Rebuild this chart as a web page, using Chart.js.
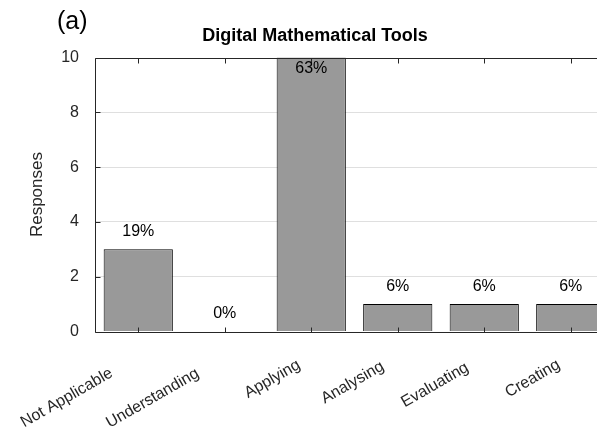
<!DOCTYPE html>
<html>
<head>
<meta charset="utf-8">
<script src="https://cdn.jsdelivr.net/npm/chart.js@4/dist/chart.umd.min.js"></script>
<style>
    html, body { margin: 0; padding: 0; background: #fff; overflow: hidden; }
    #wrap { position: relative; width: 630px; height: 429px; }
    #panel { position: absolute; left: 57px; top: 6px; font: 25px "Liberation Sans", Arial, sans-serif; color: #000; }
</style>
</head>
<body>
<div id="wrap">
    <canvas id="chart" width="630" height="429"></canvas>
    <div id="panel">(a)</div>
</div>
<script>
const categories = ['Not Applicable', 'Understanding', 'Applying', 'Analysing', 'Evaluating', 'Creating'];
const responses = [3, 0, 10, 1, 1, 1];
const percentLabels = ['19%', '0%', '63%', '6%', '6%', '6%'];
const yTicks = [0, 2, 4, 6, 8, 10];

const fontFamily = '"Liberation Sans", Arial, sans-serif';
const axisColor = '#262626';

// axes box, inward tick marks, percentage labels and slanted category labels
const boxAndLabels = {
    id: 'boxAndLabels',
    afterDatasetsDraw(chart) {
        const ctx = chart.ctx;
        const area = chart.chartArea;
        const xs = chart.scales.x;
        const ys = chart.scales.y;
        const l = Math.round(area.left) + 0.5;
        const r = Math.round(area.right) + 0.5;
        const t = Math.round(area.top) + 0.5;
        const b = Math.round(area.bottom) + 0.5;
        ctx.save();
        ctx.strokeStyle = axisColor;
        ctx.lineWidth = 1;
        ctx.beginPath();
        ctx.rect(l, t, r - l, b - t);
        // x ticks, bottom and top
        categories.forEach((c, i) => {
            const px = Math.round(xs.getPixelForValue(i)) + 0.5;
            ctx.moveTo(px, b); ctx.lineTo(px, b - 5);
            ctx.moveTo(px, t); ctx.lineTo(px, t + 5);
        });
        // y ticks, left and right
        yTicks.forEach(v => {
            const py = Math.round(ys.getPixelForValue(v)) + 0.5;
            ctx.moveTo(l, py); ctx.lineTo(l + 5, py);
            ctx.moveTo(r, py); ctx.lineTo(r - 5, py);
        });
        ctx.stroke();

        ctx.fillStyle = '#000';
        ctx.font = '16px ' + fontFamily;
        ctx.textAlign = 'center';
        ctx.textBaseline = 'middle';
        chart.getDatasetMeta(0).data.forEach((bar, i) => {
            const y = Math.max(bar.y - 18, area.top + 11);
            ctx.fillText(percentLabels[i], bar.x, y);
        });

        // category labels, rotated 30 degrees, end near the tick
        ctx.fillStyle = axisColor;
        ctx.textAlign = 'right';
        ctx.textBaseline = 'top';
        categories.forEach((c, i) => {
            const w = ctx.measureText(c).width;
            ctx.save();
            ctx.translate(xs.getPixelForValue(i) + 5, area.bottom + 13);
            ctx.rotate(-Math.PI / 6);
            ctx.fillText(c, -0.4 * w, 0);
            ctx.restore();
        });
        ctx.restore();
    }
};

new Chart(document.getElementById('chart'), {
    type: 'bar',
    data: {
        labels: categories,
        datasets: [{
            data: responses,
            backgroundColor: '#999999',
            borderColor: '#000000',
            borderWidth: 1,
            categoryPercentage: 0.8,
            barPercentage: 1.0,
        }]
    },
    options: {
        responsive: false,
        animation: false,
        layout: {
            padding: { left: 16, right: 16, top: 0, bottom: 0 }
        },
        plugins: {
            legend: { display: false },
            tooltip: { enabled: false },
            title: {
                display: true,
                text: 'Digital Mathematical Tools',
                color: '#000',
                font: { family: fontFamily, size: 18, weight: 'bold' },
                padding: { top: 25, bottom: 11 },
            },
        },
        scales: {
            x: {
                offset: true,
                border: { display: false },
                grid: { display: false, drawTicks: false },
                ticks: { display: false },
                afterFit(scale) { scale.height = 97.5; },
            },
            y: {
                min: 0,
                max: 10,
                border: { display: false },
                grid: {
                    drawTicks: false,
                    color: ctx => (ctx.tick && (ctx.tick.value === 0 || ctx.tick.value === 10)) ? 'rgba(0,0,0,0)' : 'rgba(38,38,38,0.15)',
                },
                ticks: {
                    stepSize: 2,
                    color: axisColor,
                    font: { family: fontFamily, size: 16 },
                    padding: 16,
                },
                title: {
                    display: true,
                    text: 'Responses',
                    color: axisColor,
                    font: { family: fontFamily, size: 17 },
                    padding: { top: 11, bottom: 0 },
                },
                afterFit(scale) { scale.width = 79; },
            }
        }
    },
    plugins: [boxAndLabels]
});
</script>
</body>
</html>
